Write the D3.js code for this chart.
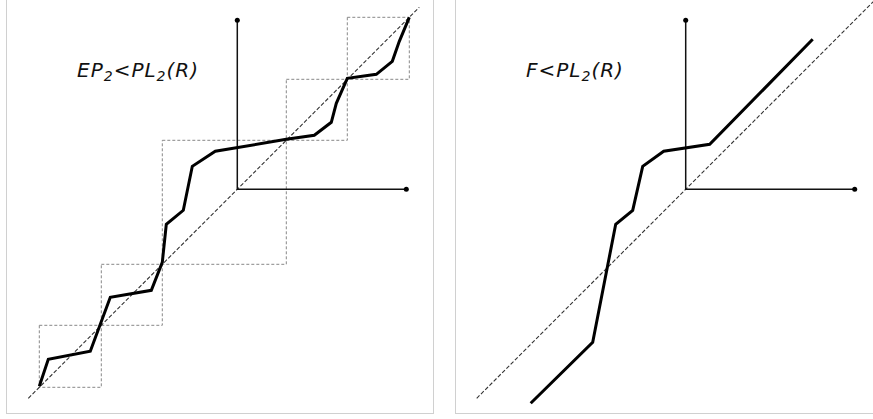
<!DOCTYPE html>
<html>
<head>
<meta charset="utf-8">
<script src="https://cdn.jsdelivr.net/npm/d3@7"></script>
<style>
  body { margin: 0; background: #fff; }
  text { font-family: "DejaVu Sans", sans-serif; font-style: italic; }
</style>
</head>
<body>
<svg width="873" height="419"></svg>
<script>
// values are in units relative to the axes origin (y up)
let stepCurve = [
  [-198, -197], [-189, -170], [-147, -162], [-127, -108], [-86, -101],
  [-75, -73], [-71, -35], [-54, -21], [-45, 23], [-22, 38],
  [49, 50], [77, 54], [94, 67], [99, 86], [110, 111],
  [139, 115], [155, 128], [162, 148], [172, 172]
];
// square boxes along the diagonal: [from, to]
let boxes = [
  [-198, -136], [-136, -75], [-75, 49], [49, 110], [110, 172]
];
let fCurve = [
  [-155, -214], [-93, -153], [-70, -35], [-53, -21], [-43, 23],
  [-22, 38], [24, 45], [127, 150]
];
let axisLength = 169;
let leftLabel = ["EP", "2", "<PL", "2", "(R)"];
let rightLabel = ["F<PL", "2", "(R)"];

let svg = d3.select("svg");

let panels = [
  { frame: 6, originX: 237.3, curve: stepCurve, boxes: boxes, label: leftLabel, labelX: 77, diag: [-209, 182] },
  { frame: 455, originX: 685.7, curve: fCurve, boxes: [], label: rightLabel, labelX: 526, diag: [-209, 192] }
];
let originY = 189.3;

let drawPanel = p => {
  let g = svg.append("g");

  g.append("rect")
    .attr("x", p.frame + 0.5)
    .attr("y", -5)
    .attr("width", 427)
    .attr("height", 418.5)
    .attr("fill", "none")
    .attr("stroke", "#d0d0d0")
    .attr("stroke-width", 1);

  let x = d3.scaleLinear().domain([0, 100]).range([p.originX, p.originX + 100]);
  let y = d3.scaleLinear().domain([0, 100]).range([originY, originY - 100]);

  // dotted boxes
  g.selectAll(".box")
    .data(p.boxes)
    .enter()
    .append("rect")
    .attr("class", "box")
    .attr("x", d => x(d[0]))
    .attr("y", d => y(d[1]))
    .attr("width", d => x(d[1]) - x(d[0]))
    .attr("height", d => y(d[0]) - y(d[1]))
    .attr("fill", "none")
    .attr("stroke", "#888")
    .attr("stroke-width", 1)
    .attr("stroke-dasharray", "3,2");

  // dashed diagonal
  g.append("line")
    .attr("x1", x(p.diag[0]))
    .attr("y1", y(p.diag[0]))
    .attr("x2", x(p.diag[1]))
    .attr("y2", y(p.diag[1]))
    .attr("stroke", "#333")
    .attr("stroke-width", 1.1)
    .attr("stroke-dasharray", "4,2");

  // axes
  g.append("path")
    .attr("d", d3.line()([[x(0), y(axisLength)], [x(0), y(0)], [x(axisLength), y(0)]]))
    .attr("fill", "none")
    .attr("stroke", "#111")
    .attr("stroke-width", 1.5);

  g.selectAll(".tip")
    .data([[0, axisLength], [axisLength, 0]])
    .enter()
    .append("circle")
    .attr("cx", d => x(d[0]))
    .attr("cy", d => y(d[1]))
    .attr("r", 2.5)
    .attr("fill", "#000");

  // curve
  g.append("path")
    .datum(p.curve)
    .attr("d", d3.line().x(d => x(d[0])).y(d => y(d[1])))
    .attr("fill", "none")
    .attr("stroke", "#000")
    .attr("stroke-width", 3)
    .attr("stroke-linejoin", "miter");

  // label with subscripts
  let t = g.append("text")
    .attr("x", p.labelX)
    .attr("y", 77)
    .attr("font-size", 20)
    .attr("letter-spacing", 1)
    .attr("fill", "#111");
  p.label.forEach((s, i) => {
    let sub = s === "2";
    t.append("tspan")
      .attr("font-size", sub ? 14 : 20)
      .attr("dy", sub ? 4 : (i > 0 ? -4 : 0))
      .text(s);
  });
};

panels.forEach(drawPanel);
</script>
</body>
</html>
